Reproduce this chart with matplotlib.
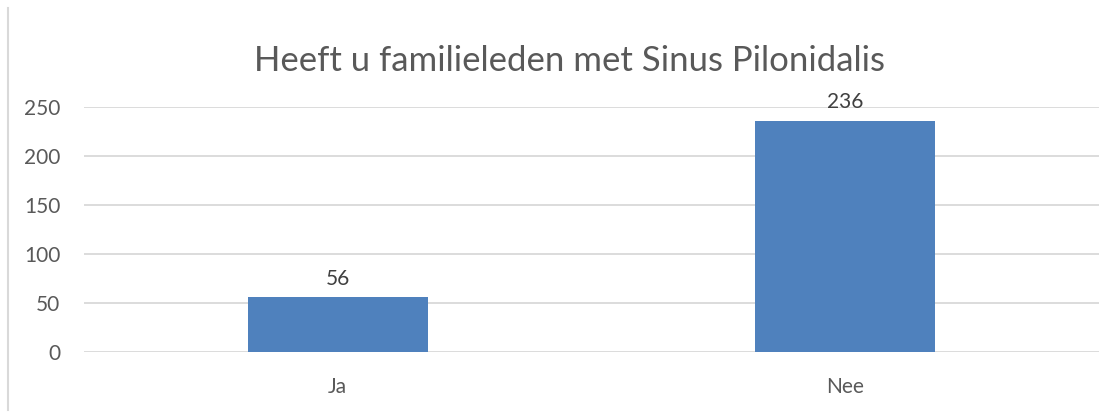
import matplotlib
matplotlib.use("Agg")
import matplotlib.pyplot as plt
from matplotlib.lines import Line2D

categories = ["Ja", "Nee"]
values = [56, 236]
yticks = [0, 50, 100, 150, 200, 250]
title = "Heeft u familieleden met Sinus Pilonidalis"

plt.rcParams['font.family'] = ['Lato', 'DejaVu Sans']
txt = "#595959"

fig = plt.figure(figsize=(11.15, 4.12), dpi=100)
ax = fig.add_axes([84/1115, 1-352/412, (1099-84)/1115, (352-107)/412])

x = list(range(len(categories)))
bars = ax.bar(x, values, width=0.355, color="#4F81BD", zorder=3)
for xi, v in zip(x, values):
    ax.annotate(str(v), (xi, v), xytext=(0, 6), textcoords="offset points",
                ha="center", va="bottom", fontsize=15, color="#404040")

ax.set_xlim(-0.5, 1.5)
ax.set_ylim(0, 250)
ax.set_yticks(yticks)
ax.set_xticks(x)
ax.set_xticklabels(categories)
ax.tick_params(axis="both", length=0, labelsize=15, colors=txt)
ax.tick_params(axis="y", pad=17)
ax.tick_params(axis="x", pad=18)
ax.grid(axis="y", color="#D9D9D9", linewidth=1.3, zorder=0)
for s in ax.spines.values():
    s.set_visible(False)

fig.text(570/1115, 1-61/412, title, ha="center", va="center", fontsize=25, color=txt)
fig.add_artist(Line2D([8/1115, 8/1115], [1-410/412, 1-8/412], color="#D9D9D9", linewidth=1.5))

fig.savefig("out.png", dpi=100)
